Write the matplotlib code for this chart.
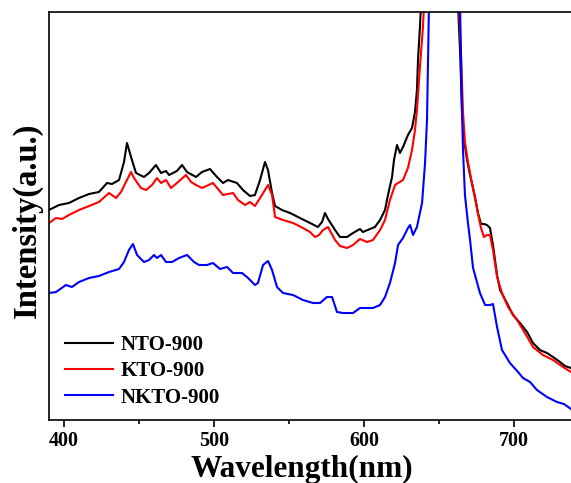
import matplotlib
matplotlib.use("Agg")
import matplotlib.pyplot as plt
from matplotlib.ticker import MultipleLocator

plt.rcParams['font.family'] = ['Liberation Serif', 'DejaVu Serif']
plt.rcParams['font.weight'] = 'bold'

# PL spectra (wavelength in nm, intensity in a.u.)
nto_wl = [390.0, 396.7, 403.3, 410.0, 416.7, 423.3, 428.7, 432.0, 436.7, 440.0,
          442.0, 444.7, 448.0, 453.3, 456.7, 461.3, 464.7, 468.0, 470.0, 475.3,
          478.7, 482.0, 488.0, 492.0, 497.3, 502.0, 506.0, 509.3, 515.3, 519.3,
          524.0, 527.3, 530.7, 534.0, 536.0, 538.7, 540.7, 545.3, 550.7, 557.3,
          564.0, 569.3, 572.0, 574.0, 576.0, 580.7, 584.0, 588.7, 592.7, 597.3,
          599.3, 604.0, 607.3, 610.7, 614.0, 616.0, 618.7, 620.0, 622.0, 624.0,
          626.0, 629.3, 632.0, 634.0, 635.3, 636.0, 637.3, 638.0, 651.3, 662.7,
          664.0, 665.3, 666.7, 668.7, 670.7, 674.0, 676.0, 678.0, 680.0, 682.0,
          684.0, 686.0, 688.7, 690.7, 695.3, 699.3, 704.0, 708.7, 712.7, 717.3,
          722.0, 726.0, 730.7, 734.0, 738.0]
nto_int = [210, 215, 217, 222, 226, 228, 237, 236, 240, 258,
           277, 263, 247, 243, 247, 255, 247, 249, 245, 249,
           255, 248, 243, 248, 251, 243, 237, 240, 237, 230,
           224, 225, 240, 258, 250, 227, 214, 210, 207, 202,
           197, 193, 198, 207, 201, 190, 183, 183, 187, 191,
           188, 191, 193, 200, 210, 225, 243, 260, 275, 267,
           273, 285, 292, 308, 330, 360, 393, 415, 3000, 415,
           370, 310, 280, 260, 245, 223, 207, 196, 196, 195,
           192, 175, 145, 130, 117, 105, 97, 88, 77, 70,
           67, 63, 58, 54, 52]

kto_wl = [390.0, 394.7, 398.7, 403.3, 410.0, 416.7, 423.3, 430.0, 434.7, 438.0,
          441.3, 444.7, 446.7, 451.3, 454.7, 458.7, 462.0, 464.7, 468.0, 471.3,
          475.3, 481.3, 484.7, 488.0, 492.0, 499.3, 506.0, 512.7, 516.0, 520.7,
          524.0, 527.3, 532.0, 536.0, 538.7, 540.7, 546.0, 552.7, 559.3, 564.0,
          567.3, 570.0, 572.7, 576.0, 580.7, 584.0, 588.7, 592.7, 597.3, 602.0,
          606.0, 610.7, 614.0, 617.3, 620.7, 622.7, 626.0, 629.3, 632.0, 634.0,
          635.3, 637.3, 639.3, 640.0, 651.3, 663.3, 664.7, 666.0, 667.3, 669.3,
          671.3, 674.0, 676.0, 678.0, 680.0, 682.0, 684.0, 686.0, 688.7, 692.0,
          696.0, 702.0, 707.3, 712.7, 719.3, 726.0, 732.7, 738.0]
kto_int = [197, 202, 201, 205, 210, 214, 218, 227, 222, 228,
           238, 248, 242, 232, 230, 235, 242, 237, 240, 232,
           237, 245, 238, 235, 232, 237, 225, 227, 220, 215,
           218, 214, 225, 235, 225, 203, 200, 197, 192, 188,
           183, 185, 190, 193, 180, 174, 172, 175, 181, 178,
           180, 190, 200, 220, 235, 237, 240, 252, 270, 290,
           310, 353, 393, 415, 3000, 415, 365, 308, 278, 258,
           242, 222, 206, 192, 183, 185, 185, 170, 143, 127,
           113, 100, 87, 73, 65, 60, 53, 48]

nkto_wl = [390.0, 394.7, 401.3, 405.3, 410.0, 416.7, 423.3, 430.0, 436.7, 440.0,
           443.3, 446.0, 448.7, 453.3, 456.7, 460.0, 462.0, 464.7, 468.0, 472.0,
           476.7, 482.0, 486.7, 490.0, 495.3, 499.3, 504.0, 508.7, 512.7, 518.7,
           522.7, 527.3, 529.3, 532.7, 536.0, 538.7, 542.0, 546.0, 552.7, 559.3,
           566.0, 570.7, 575.3, 578.7, 582.0, 586.0, 592.7, 597.3, 602.0, 606.0,
           610.7, 614.0, 617.3, 620.7, 622.7, 626.0, 629.3, 630.7, 632.7, 635.3,
           638.7, 640.7, 642.0, 642.7, 643.3, 651.3, 664.0, 664.7, 665.3, 666.0,
           667.3, 669.3, 670.7, 672.7, 675.3, 677.3, 680.7, 684.0, 686.0, 688.7,
           692.0, 697.3, 702.7, 706.0, 710.7, 715.3, 722.0, 728.7, 733.3, 738.0]
nkto_int = [127, 128, 135, 133, 138, 142, 144, 148, 151, 158,
            170, 176, 165, 158, 160, 165, 162, 165, 158, 158,
            162, 165, 158, 155, 155, 157, 151, 153, 147, 147,
            142, 135, 137, 155, 159, 150, 133, 127, 125, 120,
            117, 117, 123, 123, 108, 107, 107, 112, 112, 112,
            115, 123, 137, 157, 175, 182, 192, 195, 185, 193,
            217, 257, 300, 360, 415, 3000, 415, 360, 310, 270,
            225, 197, 180, 152, 138, 127, 115, 115, 116, 93,
            70, 57, 48, 42, 38, 30, 23, 18, 16, 11]

fig = plt.figure(figsize=(5.71, 4.83), dpi=100)
ax = fig.add_axes([0.0858, 0.1304, 0.9142, 0.8448])

ax.plot(nto_wl, nto_int, color='black', lw=1.5, label='NTO-900')
ax.plot(kto_wl, kto_int, color='#ff0000', lw=1.5, label='KTO-900')
ax.plot(nkto_wl, nkto_int, color='#0000ff', lw=1.5, label='NKTO-900')

ax.set_xlim(390, 738)
ax.set_ylim(0, 408)
ax.xaxis.set_major_locator(MultipleLocator(100))
ax.xaxis.set_minor_locator(MultipleLocator(50))
ax.set_yticks([])
ax.tick_params(axis='x', which='major', direction='out', length=5, width=1.2,
               labelsize=14.5, pad=3)
ax.tick_params(axis='x', which='minor', direction='out', length=3, width=1.2)
for s in ['left', 'bottom', 'top']:
    ax.spines[s].set_linewidth(1.2)
ax.spines['right'].set_visible(False)

ax.set_xlabel('Wavelength(nm)', fontsize=22.5, fontweight='bold')
ax.xaxis.set_label_coords(0.485, -0.085)
ax.set_ylabel('Intensity(a.u.)', fontsize=23.5, fontweight='bold')
ax.yaxis.set_label_coords(-0.012, 0.49)

ax.legend(loc='upper left', bbox_to_anchor=(0.031, 0.208), frameon=False,
          fontsize=15, handlelength=2.3, handletextpad=0.35,
          labelspacing=0.3, borderpad=0, borderaxespad=0)

fig.savefig('out.png', dpi=100)
